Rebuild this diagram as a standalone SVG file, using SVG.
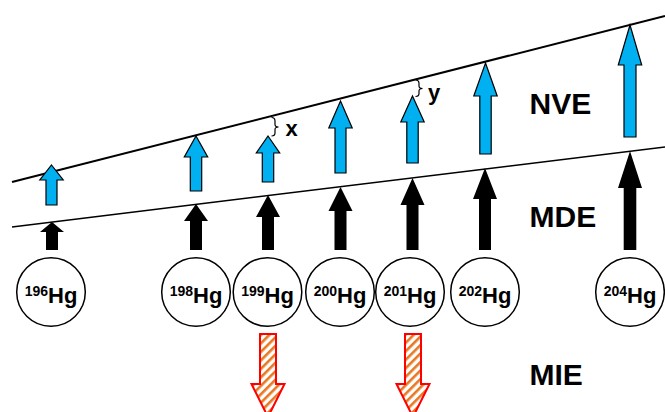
<svg xmlns="http://www.w3.org/2000/svg" width="665" height="412" viewBox="0 0 665 412">
<style>
.lvl{stroke:#000;fill:none}
.blue{fill:#00B0F0;stroke:#000;stroke-width:1.2;stroke-linejoin:miter}
.blk{fill:#000}
.mie{fill:url(#hatch);stroke:#FF0000;stroke-width:2}
.iso{fill:#fff;stroke:#000;stroke-width:1.5}
.lab{font-family:"Liberation Sans",Arial,sans-serif;font-weight:bold;fill:#000}
.brace{fill:none;stroke:#000;stroke-width:1.2}
</style>
<defs>
<pattern id="hatch" width="6" height="6" patternUnits="userSpaceOnUse" patternTransform="rotate(45)">
<rect width="6" height="6" fill="#fff"/>
<rect width="2.6" height="6" fill="#E87722"/>
</pattern>
</defs>
<rect width="665" height="412" fill="#fff"/>
<g id="connectors">
<line class="lvl" x1="12" y1="182" x2="665" y2="16" stroke-width="2"/>
<line class="lvl" x1="12" y1="227" x2="665" y2="147" stroke-width="1.5"/>
</g>
<g id="hg196">
<polygon class="blue" points="51.5,165 63.2,180 57,180 57,205 46,205 46,180 39.8,180"/>
<polygon class="blk" points="52,222 64,232 58,232 58,250 46,250 46,232 40,232"/>
<circle class="iso" cx="51" cy="292" r="34.3"/>
<text class="lab" x="51" y="303" text-anchor="middle"><tspan font-size="14" dy="-7">196</tspan><tspan font-size="22" dy="7">Hg</tspan></text>
</g>
<g id="hg198">
<polygon class="blue" points="196,136 207.7,157 201.7,157 201.7,191 190.3,191 190.3,157 184.3,157"/>
<polygon class="blk" points="196,204 208,221 202,221 202,250 190,250 190,221 184,221"/>
<circle class="iso" cx="196" cy="292" r="34.3"/>
<text class="lab" x="196" y="303" text-anchor="middle"><tspan font-size="14" dy="-7">198</tspan><tspan font-size="22" dy="7">Hg</tspan></text>
</g>
<g id="hg199">
<polygon class="blue" points="268,136 279.7,153 273.7,153 273.7,182 262.3,182 262.3,153 256.3,153"/>
<polygon class="blk" points="268,195 280,217 274,217 274,250 262,250 262,217 256,217"/>
<circle class="iso" cx="267.5" cy="292" r="34.3"/>
<text class="lab" x="267.5" y="303" text-anchor="middle"><tspan font-size="14" dy="-7">199</tspan><tspan font-size="22" dy="7">Hg</tspan></text>
<path class="brace" d="M271.5,117.5 Q275,117.5 275,121 L275,124.5 Q275,127 278.5,127 Q275,127 275,129.5 L275,133 Q275,136 271.5,136"/>
<text class="lab" x="285.5" y="136" font-size="22">x</text>
</g>
<g id="hg200">
<polygon class="blue" points="340.5,101 352.2,128 346,128 346,173 335,173 335,128 328.8,128"/>
<polygon class="blk" points="340.5,187 352.5,211 346.5,211 346.5,250 334.5,250 334.5,211 328.5,211"/>
<circle class="iso" cx="340" cy="292" r="34.3"/>
<text class="lab" x="340" y="303" text-anchor="middle"><tspan font-size="14" dy="-7">200</tspan><tspan font-size="22" dy="7">Hg</tspan></text>
</g>
<g id="hg201">
<polygon class="blue" points="412.5,96 424.2,122 418.2,122 418.2,163 406.8,163 406.8,122 400.8,122"/>
<polygon class="blk" points="412.5,178 424.5,205 418.5,205 418.5,250 406.5,250 406.5,205 400.5,205"/>
<circle class="iso" cx="410" cy="292" r="34.3"/>
<text class="lab" x="410" y="303" text-anchor="middle"><tspan font-size="14" dy="-7">201</tspan><tspan font-size="22" dy="7">Hg</tspan></text>
<path class="brace" d="M415.5,80 Q419,80 419,83.5 L419,86 Q419,88.5 422.5,88.5 Q419,88.5 419,91 L419,93.5 Q419,96.5 415.5,96.5"/>
<text class="lab" x="428" y="100" font-size="22">y</text>
</g>
<g id="hg202">
<polygon class="blue" points="485.5,63 497.2,96 491.2,96 491.2,154 479.8,154 479.8,96 473.8,96"/>
<polygon class="blk" points="485,168 497,199 491,199 491,250 479,250 479,199 473,199"/>
<circle class="iso" cx="485" cy="292" r="34.3"/>
<text class="lab" x="485" y="303" text-anchor="middle"><tspan font-size="14" dy="-7">202</tspan><tspan font-size="22" dy="7">Hg</tspan></text>
</g>
<g id="hg204">
<polygon class="blue" points="630,25 641.7,65 636,65 636,137 624,137 624,65 618.3,65"/>
<polygon class="blk" points="630,151 642,188 636.3,188 636.3,250 623.7,250 623.7,188 618,188"/>
<circle class="iso" cx="630" cy="292" r="34.3"/>
<text class="lab" x="630" y="303" text-anchor="middle"><tspan font-size="14" dy="-7">204</tspan><tspan font-size="22" dy="7">Hg</tspan></text>
</g>
<g id="mie-arrows">
<polygon class="mie" points="260,334 276,334 276,384 284.5,384 268,417 251.5,384 260,384"/>
<polygon class="mie" points="405,334 421,334 421,384 429.5,384 413,417 396.5,384 405,384"/>
</g>
<g id="labels">
<text class="lab" x="529.5" y="114" font-size="30">NVE</text>
<text class="lab" x="529.5" y="226.5" font-size="30">MDE</text>
<text class="lab" x="529.5" y="385" font-size="30">MIE</text>
</g>
</svg>
